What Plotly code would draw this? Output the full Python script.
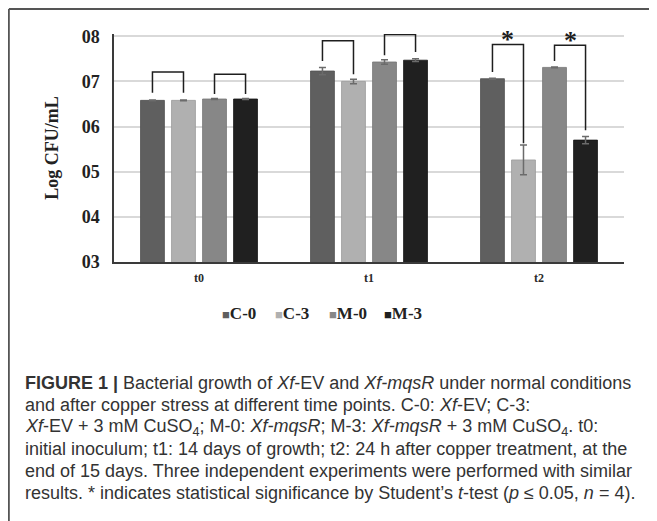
import plotly.graph_objects as go

# ---------------- data ----------------
categories = ["t0", "t1", "t2"]
series_names = ["C-0", "C-3", "M-0", "M-3"]
c0_vals = [6.58, 7.23, 7.06]
c0_err = [0.01, 0.08, 0.01]
c3_vals = [6.58, 7.00, 5.26]
c3_err = [0.01, 0.05, 0.33]
m0_vals = [6.61, 7.43, 7.31]
m0_err = [0.01, 0.05, 0.01]
m3_vals = [6.61, 7.47, 5.70]
m3_err = [0.01, 0.03, 0.08]
y_tick_vals = [3, 4, 5, 6, 7, 8]
y_tick_text = ["03", "04", "05", "06", "07", "08"]

# brackets: (category index, left series, right series, top, left end, right end, star)
brackets = [
    (0, 0, 1, 7.21, 6.75, 6.75, False),
    (0, 2, 3, 7.16, 6.72, 6.72, False),
    (1, 0, 1, 7.90, 7.45, 7.16, False),
    (1, 2, 3, 8.04, 7.58, 7.65, False),
    (2, 0, 1, 7.82, 7.21, 5.63, True),
    (2, 2, 3, 7.80, 7.45, 5.92, True),
]

caption_lines = [
    "<b>FIGURE 1 |</b> Bacterial growth of <i>Xf</i>-EV and <i>Xf-mqsR</i> under normal conditions",
    "and after copper stress at different time points. C-0: <i>Xf</i>-EV; C-3:",
    "<i>Xf</i>-EV + 3 mM CuSO<sub>4</sub>; M-0: <i>Xf-mqsR</i>; M-3: <i>Xf-mqsR</i> + 3 mM CuSO<sub>4</sub>. t0:",
    "initial inoculum; t1: 14 days of growth; t2: 24 h after copper treatment, at the",
    "end of 15 days. Three independent experiments were performed with similar",
    "results. * indicates statistical significance by Student\u2019s <i>t</i>-test (<i>p</i> \u2264 0.05, <i>n</i> = 4).",
]

# ---------------- styles ----------------
colors = ["#5f5f5f", "#b0b0b0", "#878787", "#202020"]
edge_colors = ["#505050", "#9a9a9a", "#767676", "#151515"]
OFF = 8                      # page body margin
W, H = 657 - OFF, 521 - OFF
PL, PR, PT, PB = 114 - OFF, 624 - OFF, 26, 262 - OFF
Y_RANGE = [3, 8.05]
BARGAP = 0.27
SLOT = (1 - BARGAP) / 4

def px_x(x):
    return (x - OFF - PL) / (PR - PL)

def px_y(y):
    return (PB - (y - OFF)) / (PB - PT)

serif = "Liberation Serif"
sans = "Liberation Sans"

fig = go.Figure()
x_idx = list(range(len(categories)))
all_vals = [c0_vals, c3_vals, m0_vals, m3_vals]
all_err = [c0_err, c3_err, m0_err, m3_err]
for k, name in enumerate(series_names):
    fig.add_trace(go.Bar(
        x=x_idx, y=all_vals[k], name=name, showlegend=False,
        marker=dict(color=colors[k], line=dict(color=edge_colors[k], width=0.8)),
        error_y=dict(type="data", array=all_err[k], visible=True,
                     color="#6b6b6b", thickness=1.5, width=3.5),
        hoverinfo="skip",
    ))

# significance brackets
for (ci, a, b, top, le, re, star) in brackets:
    xa = ci + (a - 1.5) * SLOT
    xb = ci + (b - 1.5) * SLOT
    fig.add_trace(go.Scatter(
        x=[xa, xa, xb, xb], y=[le, top, top, re], mode="lines",
        line=dict(color="#1e1e1e", width=1.5), showlegend=False,
        cliponaxis=False, hoverinfo="skip",
    ))
    if star:
        fig.add_annotation(x=(xa + xb) / 2, y=top, yshift=5, text="<b>*</b>",
                           showarrow=False, xanchor="center", yanchor="middle",
                           font=dict(family=serif, size=26, color="#1e1e1e"))

fig.update_layout(
    width=W, height=H,
    margin=dict(l=PL, r=W - PR, t=PT, b=H - PB, pad=0),
    paper_bgcolor="white", plot_bgcolor="white",
    barmode="group", bargap=BARGAP, bargroupgap=0.23,
    showlegend=False,
    xaxis=dict(
        range=[-0.5, 2.5], tickvals=x_idx, ticktext=categories,
        showgrid=False, zeroline=False, showline=True, linecolor="#3a3a3a",
        linewidth=1.5, ticks="", ticklabelstandoff=4,
        tickfont=dict(family=serif, size=12, color="#2a2a2a", weight="bold"),
        fixedrange=True,
    ),
    yaxis=dict(
        range=Y_RANGE, tickvals=y_tick_vals, ticktext=y_tick_text,
        showgrid=True, gridcolor="#d9d9d9", gridwidth=1.5,
        zeroline=False, showline=True, linecolor="#3a3a3a", linewidth=1.5,
        ticks="", ticklabelstandoff=9,
        tickfont=dict(family=serif, size=18, color="#222222", weight="bold"),
        title=dict(text="Log CFU/mL", standoff=18,
                   font=dict(family=serif, size=18, color="#222222", weight="bold")),
        fixedrange=True,
    ),
)

# legend (drawn as text so spacing matches the original)
legend_x = [220, 273, 327, 382]
for k, name in enumerate(series_names):
    fig.add_annotation(
        xref="paper", yref="paper", x=px_x(legend_x[k]), y=px_y(313),
        xanchor="left", yanchor="middle", showarrow=False,
        text=f"<span style='color:{colors[k]};font-size:13px'>\u25a0</span>{name}",
        font=dict(family=serif, size=17, color="#222222", weight="bold"),
    )

# caption
for i, line in enumerate(caption_lines):
    fig.add_annotation(
        xref="paper", yref="paper", x=px_x(23), y=px_y(383 + 22 * i),
        xanchor="left", yanchor="middle", showarrow=False, align="left",
        text=line, font=dict(family=sans, size=18, color="#333333"),
    )

# frame
fig.add_shape(type="line", xref="paper", yref="paper",
              x0=px_x(8.9), x1=px_x(W + OFF + 5), y0=px_y(9), y1=px_y(9),
              line=dict(color="#555555", width=1.8))
fig.add_shape(type="line", xref="paper", yref="paper",
              x0=px_x(8.9), x1=px_x(8.9), y0=px_y(9), y1=px_y(H + OFF + 5),
              line=dict(color="#555555", width=1.8))

fig.write_html("out.html")
